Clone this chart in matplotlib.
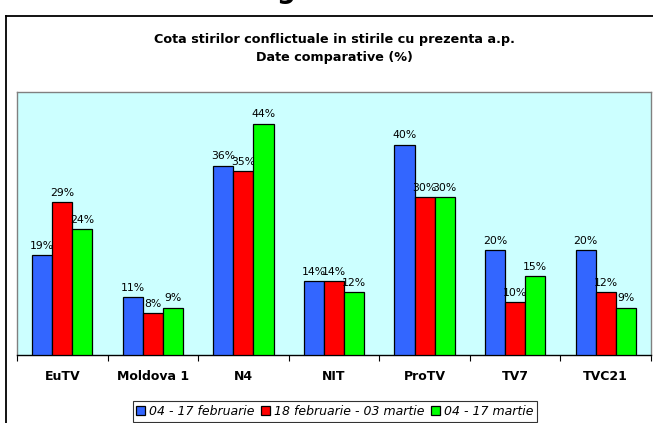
import numpy as np
import matplotlib.pyplot as plt
from matplotlib.lines import Line2D

# data
channels = ['EuTV', 'Moldova 1', 'N4', 'NIT', 'ProTV', 'TV7', 'TVC21']
periods = ['04 - 17 februarie', '18 februarie - 03 martie', '04 - 17 martie']
feb1 = [19, 11, 36, 14, 40, 20, 20]
feb2 = [29, 8, 35, 14, 30, 10, 12]
mar1 = [24, 9, 44, 12, 30, 15, 9]
colors = ['#3366FF', '#FF0000', '#00FF00']

W, H = 653, 423
fig = plt.figure(figsize=(W / 100, H / 100), dpi=100)
fig.patch.set_facecolor('white')

# outer chart frame (partly cut off at right / bottom)
fig.add_artist(Line2D([6 / W, 1.0], [1 - 16.5 / H, 1 - 16.5 / H], color='black', lw=1.3))
fig.add_artist(Line2D([6 / W, 6 / W], [0.0, 1 - 16.5 / H], color='black', lw=1.3))
# descender of heading above the chart
fig.text(286 / W, 1 + 2.5 / H, 'g', fontsize=19, fontweight='bold', ha='center', va='baseline')

fig.text(334 / W, 1 - 40 / H, 'Cota stirilor conflictuale in stirile cu prezenta a.p.',
         ha='center', va='center', fontsize=9.2, fontweight='bold')
fig.text(334 / W, 1 - 57 / H, 'Date comparative (%)',
         ha='center', va='center', fontsize=9.2, fontweight='bold')

ax = fig.add_axes([17 / W, 1 - 355 / H, 634 / W, 263 / H])
ax.set_facecolor('#CCFFFF')

x = np.arange(len(channels))
w = 0.222
for k, (vals, c) in enumerate(zip([feb1, feb2, mar1], colors)):
    bars = ax.bar(x + (k - 1) * w, vals, w, color=c, edgecolor='black', lw=0.9,
                  label=periods[k], zorder=3)
    ax.bar_label(bars, labels=['%d%%' % v for v in vals], padding=3, fontsize=7.8)

ax.set_xlim(-0.5, len(channels) - 0.5)
ax.set_ylim(0, 50)
ax.set_yticks([])
ax.set_xticks(x)
ax.set_xticklabels(channels, fontsize=9, fontweight='bold')
ax.tick_params(axis='x', which='major', length=0, pad=11)
ax.set_xticks(np.arange(-0.5, len(channels)), minor=True)
ax.tick_params(axis='x', which='minor', length=4, width=0.8, color='black')
for s in ['top', 'left', 'right']:
    ax.spines[s].set_color('#808080')
    ax.spines[s].set_linewidth(1)
ax.spines['bottom'].set_color('black')
ax.spines['bottom'].set_linewidth(1)

leg = fig.legend(loc='upper center', bbox_to_anchor=(335 / W, 1 - 401 / H), ncol=3,
                 prop={'style': 'italic', 'size': 9}, frameon=True, fancybox=False,
                 edgecolor='black', handlelength=0.7, handleheight=0.7,
                 handletextpad=0.35, columnspacing=0.5, borderpad=0.3, borderaxespad=0)
leg.get_frame().set_linewidth(0.8)

fig.savefig('out.png', dpi=100)
